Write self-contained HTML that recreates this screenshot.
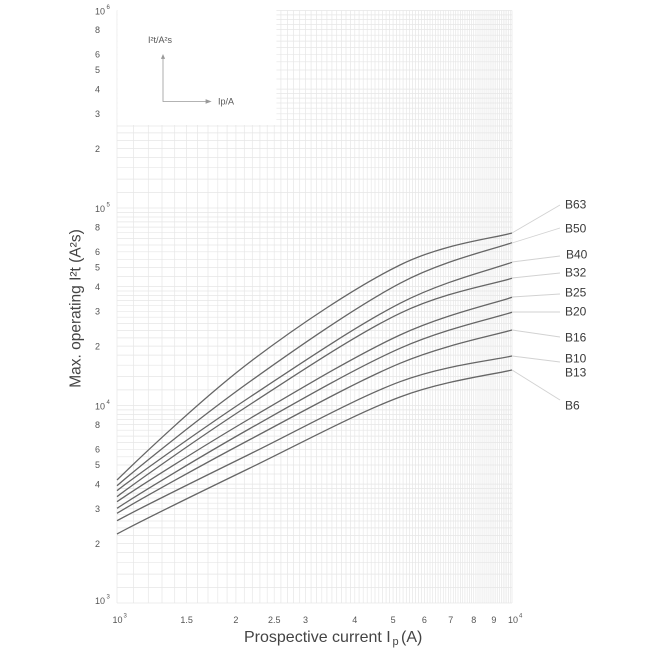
<!DOCTYPE html>
<html><head><meta charset="utf-8"><style>
html,body{margin:0;padding:0;background:#fff;}
svg{display:block;}
text{font-family:"Liberation Sans",sans-serif;}
</style></head><body>
<svg width="650" height="650" viewBox="0 0 650 650" xmlns="http://www.w3.org/2000/svg">
<rect width="650" height="650" fill="#fff"/>
<g stroke="#e6e6e6" stroke-width="0.7" fill="none">
<path d="M117 10.5V603M133.4 10.5V603M148.3 10.5V603M162 10.5V603M174.7 10.5V603M186.6 10.5V603M197.6 10.5V603M208 10.5V603M217.8 10.5V603M227.1 10.5V603M235.9 10.5V603M244.3 10.5V603M252.3 10.5V603M259.9 10.5V603M267.2 10.5V603M274.2 10.5V603M280.9 10.5V603M287.4 10.5V603M293.6 10.5V603M299.7 10.5V603M305.5 10.5V603M311.1 10.5V603M316.5 10.5V603M321.8 10.5V603M326.9 10.5V603M331.9 10.5V603M336.7 10.5V603M341.4 10.5V603M346 10.5V603M350.5 10.5V603M354.8 10.5V603M359.1 10.5V603M363.2 10.5V603M367.2 10.5V603M371.2 10.5V603M375 10.5V603M378.8 10.5V603M382.5 10.5V603M386.1 10.5V603M389.6 10.5V603M393.1 10.5V603M396.5 10.5V603M399.8 10.5V603M403.1 10.5V603M406.3 10.5V603M409.4 10.5V603M412.5 10.5V603M415.6 10.5V603M418.6 10.5V603M421.5 10.5V603M424.4 10.5V603M427.2 10.5V603M430 10.5V603M432.7 10.5V603M435.4 10.5V603M438.1 10.5V603M440.7 10.5V603M443.3 10.5V603M445.8 10.5V603M448.4 10.5V603M450.8 10.5V603M453.3 10.5V603M455.7 10.5V603M458 10.5V603M460.4 10.5V603M462.7 10.5V603M464.9 10.5V603M467.2 10.5V603M469.4 10.5V603M471.6 10.5V603M473.7 10.5V603M475.9 10.5V603M478 10.5V603M480 10.5V603M482.1 10.5V603M484.1 10.5V603M486.1 10.5V603M488.1 10.5V603M490.1 10.5V603M492 10.5V603M493.9 10.5V603M495.8 10.5V603M497.7 10.5V603M499.6 10.5V603M501.4 10.5V603M503.2 10.5V603M505 10.5V603M506.8 10.5V603M508.5 10.5V603M510.3 10.5V603M512 10.5V603"/>
<path d="M117 603H512M117 587.4H512M117 574.1H512M117 562.7H512M117 552.6H512M117 543.6H512M117 535.4H512M117 527.9H512M117 521H512M117 514.7H512M117 508.8H512M117 503.2H512M117 498H512M117 493.1H512M117 488.5H512M117 484.1H512M117 474H512M117 465H512M117 456.8H512M117 449.3H512M117 442.5H512M117 436.1H512M117 430.2H512M117 424.6H512M117 419.4H512M117 414.5H512M117 409.9H512M117 405.5H512M117 389.9H512M117 376.6H512M117 365.2H512M117 355.1H512M117 346.1H512M117 337.9H512M117 330.4H512M117 323.5H512M117 317.2H512M117 311.3H512M117 305.7H512M117 300.5H512M117 295.6H512M117 291H512M117 286.6H512M117 276.5H512M117 267.5H512M117 259.3H512M117 251.8H512M117 245H512M117 238.6H512M117 232.7H512M117 227.1H512M117 221.9H512M117 217H512M117 212.4H512M117 208H512M117 192.4H512M117 179.1H512M117 167.7H512M117 157.6H512M117 148.6H512M117 140.4H512M117 132.9H512M117 126H512M117 119.7H512M117 113.8H512M117 108.2H512M117 103H512M117 98.1H512M117 93.5H512M117 89.1H512M117 79H512M117 70H512M117 61.8H512M117 54.3H512M117 47.5H512M117 41.1H512M117 35.2H512M117 29.6H512M117 24.4H512M117 19.5H512M117 14.9H512M117 10.5H512"/>
</g>
<!-- inset box -->
<rect x="117.4" y="10" width="159" height="115" fill="#fff"/>
<g stroke="#9a9a9a" stroke-width="0.8" fill="none">
<path d="M163 58V101.5H207"/>
<path d="M161.5 58.5L163 55L164.5 58.5Z" fill="#9a9a9a"/>
<path d="M206 99.8L210.5 101.5L206 103.2Z" fill="#9a9a9a"/>
</g>
<text x="148" y="43" font-size="9" fill="#555">I²t/A²s</text>
<text x="218" y="104.5" font-size="9" fill="#555">Ip/A</text>
<!-- curves -->
<g stroke="#666" stroke-width="1.3" fill="none">
<path d="M117,480 C139.17,458.37 202.83,397.83 250,362 C297.17,326.17 356.33,286.5 400,265 C443.67,243.5 493.33,238.33 512,233"/>
<path d="M117,485.7 C139.17,466.6 202.83,415.23 250,381.5 C297.17,347.77 356.33,306.43 400,283.3 C443.67,260.17 493.33,249.47 512,242.7"/>
<path d="M117,490.7 C139.17,473.52 202.83,428.23 250,397 C297.17,365.77 356.33,325.75 400,303.3 C443.67,280.85 493.33,269.13 512,262.3"/>
<path d="M117,496.7 C139.17,479.8 202.83,435.07 250,404.5 C297.17,373.93 356.33,334.33 400,313.3 C443.67,292.27 493.33,284.13 512,278.3"/>
<path d="M117,501.7 C139.17,486.45 202.83,446.28 250,418.5 C297.17,390.72 356.33,355.2 400,335 C443.67,314.8 493.33,303.58 512,297.3"/>
<path d="M117,508.3 C139.17,493.67 202.83,455.17 250,428.5 C297.17,401.83 356.33,367.67 400,348.3 C443.67,328.93 493.33,318.3 512,312.3"/>
<path d="M117,513.3 C139.17,499.77 202.83,464.5 250,439.5 C297.17,414.5 356.33,381.55 400,363.3 C443.67,345.05 493.33,335.55 512,330"/>
<path d="M117,520.7 C139.17,508.47 202.83,477.17 250,454 C297.17,430.83 356.33,398.03 400,381.7 C443.67,365.37 493.33,360.28 512,356"/>
<path d="M117,534 C139.17,521.9 202.83,490.83 250,468 C297.17,445.17 356.33,413.33 400,397 C443.67,380.67 493.33,374.5 512,370"/>
</g>
<!-- leaders -->
<g stroke="#d2d2d2" stroke-width="0.9" fill="none">
<path d="M512 233L560 205M512 243L560 228M512 262L560 256M512 278L560 273M512 297L560 294M512 312L560 312M512 330L560 337M512 356L560 362M512 370L560 400"/>
</g>
<g font-size="12" fill="#3a3a3a">
<text x="565" y="208.3">B63</text>
<text x="565" y="232.3">B50</text>
<text x="566" y="258.3">B40</text>
<text x="565" y="276.3">B32</text>
<text x="565" y="296.3">B25</text>
<text x="565" y="315.3">B20</text>
<text x="565" y="341.3">B16</text>
<text x="565" y="362.3">B10</text>
<text x="565" y="376.3">B13</text>
<text x="565" y="409.3">B6</text>
</g>
<!-- y tick labels -->
<g font-size="9" fill="#555" text-anchor="middle">
<text x="97.5" y="32.8">8</text>
<text x="97.5" y="57.5">6</text>
<text x="97.5" y="73.2">5</text>
<text x="97.5" y="92.3">4</text>
<text x="97.5" y="117">3</text>
<text x="97.5" y="151.8">2</text>
<text x="97.5" y="230.3">8</text>
<text x="97.5" y="255">6</text>
<text x="97.5" y="270.7">5</text>
<text x="97.5" y="289.8">4</text>
<text x="97.5" y="314.5">3</text>
<text x="97.5" y="349.3">2</text>
<text x="97.5" y="427.8">8</text>
<text x="97.5" y="452.5">6</text>
<text x="97.5" y="468.2">5</text>
<text x="97.5" y="487.3">4</text>
<text x="97.5" y="512">3</text>
<text x="97.5" y="546.8">2</text>
<text x="100" y="14.5">10</text>
<text x="100" y="212">10</text>
<text x="100" y="409.5">10</text>
<text x="100" y="604">10</text>
<!-- x tick labels -->
<text x="117.5" y="623">10</text>
<text x="186.6" y="623">1.5</text>
<text x="235.9" y="623">2</text>
<text x="274.2" y="623">2.5</text>
<text x="305.5" y="623">3</text>
<text x="354.8" y="623">4</text>
<text x="393.1" y="623">5</text>
<text x="424.4" y="623">6</text>
<text x="450.8" y="623">7</text>
<text x="473.7" y="623">8</text>
<text x="493.9" y="623">9</text>
<text x="513" y="623">10</text>
</g>
<g font-size="6" fill="#555">
<text x="106.5" y="9">6</text>
<text x="106.5" y="206.5">5</text>
<text x="106.5" y="404">4</text>
<text x="106.5" y="598.5">3</text>
<text x="123.5" y="617.5">3</text>
<text x="519" y="617.5">4</text>
</g>
<!-- axis titles -->
<text transform="translate(80.5,308.5) rotate(-90)" text-anchor="middle" font-size="15.5" fill="#444">Max. operating I²t (A²s)</text>
<text x="244" y="642" font-size="16" fill="#444">Prospective current I</text>
<text x="392.5" y="645" font-size="11" fill="#444">p</text>
<text x="401" y="642" font-size="16" fill="#444">(A)</text>
</svg>
</body></html>
